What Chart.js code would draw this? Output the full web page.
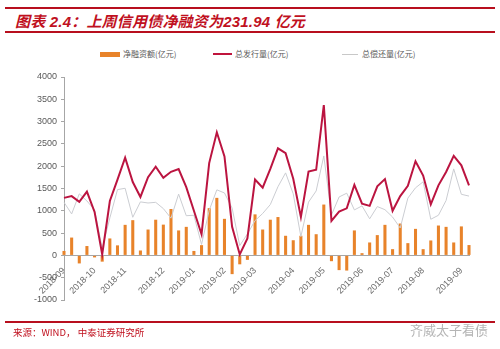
<!DOCTYPE html>
<html>
<head>
<meta charset="utf-8">
<script src="https://cdn.jsdelivr.net/npm/chart.js@4.4.1/dist/chart.umd.min.js"></script>
<style>
  html, body { margin:0; padding:0; background:#fff; }
  #wrap { position:relative; width:500px; height:349px; overflow:hidden; font-family:"Liberation Sans","Noto Sans CJK SC",sans-serif; }
  .rule { position:absolute; left:5px; width:490px; height:2px; background:#b80f1e; }
  #title { position:absolute; left:15px; top:12px; font-size:15px; line-height:20px; font-weight:bold; font-style:italic; color:#c0101e; font-family:"Liberation Sans","Noto Sans CJK SC",sans-serif; white-space:nowrap; letter-spacing:0.2px; }
  #legend { position:absolute; top:48px; left:0; width:500px; height:12px; font-family:"Noto Sans CJK SC",sans-serif; font-size:8px; color:#595959; }
  .lg { position:absolute; top:0; line-height:12px; white-space:nowrap; }
  .sw { position:absolute; }
  #src { position:absolute; left:13px; top:325px; font-size:9.5px; color:#c0101e; font-family:"Noto Sans CJK SC",sans-serif; white-space:nowrap; }
  #wm { position:absolute; left:410px; top:320px; font-size:13px; color:#b5b5b5; font-family:"Noto Sans CJK SC",sans-serif; white-space:nowrap; }
  canvas { position:absolute; left:0; top:0; }
</style>
</head>
<body>
<div id="wrap">
  <div class="rule" style="top:7px"></div>
  <div id="title">图表 2.4：上周信用债净融资为231.94 亿元</div>
  <div class="rule" style="top:31px"></div>
  <div id="legend">
    <div class="sw" style="left:100px;top:4px;width:20px;height:5px;background:#e8832a"></div>
    <div class="lg" style="left:123px">净融资额(亿元)</div>
    <div class="sw" style="left:213px;top:5px;width:19px;height:2px;background:#c0143c"></div>
    <div class="lg" style="left:235px">总发行量(亿元)</div>
    <div class="sw" style="left:342px;top:6px;width:16px;height:1px;background:#c8c8c8"></div>
    <div class="lg" style="left:362px">总偿还量(亿元)</div>
  </div>
  <canvas id="c" width="500" height="349"></canvas>
  <div class="rule" style="top:321px"></div>
  <div id="src">来源：WIND， 中泰证券研究所</div>
  <div id="wm">齐威太子看债</div>
</div>
<script>
// Weekly dates (week ending)
const weeks = [
  '2018-09-07','2018-09-14','2018-09-21','2018-09-28','2018-10-05','2018-10-12','2018-10-19','2018-10-26',
  '2018-11-02','2018-11-09','2018-11-16','2018-11-23','2018-11-30','2018-12-07','2018-12-14','2018-12-21',
  '2018-12-28','2019-01-04','2019-01-11','2019-01-18','2019-01-25','2019-02-01','2019-02-08','2019-02-15',
  '2019-02-22','2019-03-01','2019-03-08','2019-03-15','2019-03-22','2019-03-29','2019-04-05','2019-04-12',
  '2019-04-19','2019-04-26','2019-05-03','2019-05-10','2019-05-17','2019-05-24','2019-05-31','2019-06-07',
  '2019-06-14','2019-06-21','2019-06-28','2019-07-05','2019-07-12','2019-07-19','2019-07-26','2019-08-02',
  '2019-08-09','2019-08-16','2019-08-23','2019-08-30','2019-09-06','2019-09-13'
];
// 净融资额(亿元)
const netFinancing = [
  100, 400, -180, 210, -45, -140, 380, 225, 685, 790, 110, 580, 800, 690, 1040, 560, 640, 100,
  230, 1060, 1290, 820, -420, -200, -100, 920, 580, 800, 860, 440, 340, 440, 685, 475, 1140, -130,
  -330, -340, 560, 50, 290, 455, 685, 140, 715, 275, 595, 140, 335, 670, 640, 290, 650, 231.94
];
// 总发行量(亿元)
const totalIssuance = [
  1290, 1330, 1200, 1430, 975, 20, 1220, 1700, 2190, 1645, 1310, 1755, 1990, 1740, 1875, 1935, 1530, 1000,
  475, 2070, 2760, 2220, 640, 20, 380, 1700, 1520, 1940, 2400, 2290, 1720, 860, 1880, 1920, 3370, 775,
  980, 1055, 1580, 1160, 1110, 1550, 1710, 1000, 1330, 1560, 2110, 1790, 1145, 1570, 1870, 2230, 2020, 1570
];
// 总偿还量(亿元)
const totalRepayment = [
  1190, 930, 1380, 1220, 1020, 160, 840, 1475, 1505, 855, 1200, 1175, 1190, 1050, 835, 1375, 890, 900,
  245, 1010, 1470, 1400, 1060, 220, 480, 780, 940, 1140, 1540, 1850, 1380, 420, 1195, 1445, 2230, 905,
  1310, 1395, 1020, 1110, 820, 1095, 1025, 860, 615, 1285, 1515, 1650, 810, 900, 1230, 1940, 1370, 1330
];
const yMin = -1000, yMax = 4000, yStep = 500;

const axisGray = '#a6a6a6';
const tickFont = { family: 'Liberation Sans', size: 9 };

new Chart(document.getElementById('c'), {
  type: 'bar',
  data: {
    labels: weeks,
    datasets: [
      { type: 'line', label: '总发行量(亿元)', data: totalIssuance, borderColor: '#bb1440', borderWidth: 2,
        pointRadius: 0, tension: 0, fill: false, order: 1 },
      { type: 'line', label: '总偿还量(亿元)', data: totalRepayment, borderColor: '#cbcdd2', borderWidth: 1,
        pointRadius: 0, tension: 0, fill: false, order: 2 },
      { type: 'bar', label: '净融资额(亿元)', data: netFinancing, backgroundColor: '#e8832a',
        categoryPercentage: 0.4, barPercentage: 1, clip: false, order: 3 }
    ]
  },
  options: {
    responsive: false,
    animation: false,
    devicePixelRatio: 1,
    layout: { padding: { top: 77, bottom: 49, left: 0, right: 31 } },
    plugins: { legend: { display: false }, tooltip: { enabled: false } },
    scales: {
      x: {
        position: { y: 0 },
        offset: false,
        grid: { display: false },
        border: { display: true, color: axisGray, width: 1 },
        ticks: {
          autoSkip: false, minRotation: 45, maxRotation: 45, padding: 2,
          color: '#6b6b6b', font: tickFont,
          callback: function(v, i) {
            const cur = weeks[i].slice(0, 7);
            if (i === 0 || weeks[i - 1].slice(0, 7) !== cur) return cur;
            return '';
          }
        }
      },
      y: {
        min: yMin, max: yMax,
        afterFit: s => { s.width = 64; },
        grid: { display: true, drawOnChartArea: false, drawTicks: true, tickLength: 3, color: axisGray },
        border: { display: true, color: axisGray, width: 1 },
        ticks: { stepSize: yStep, color: '#595959', font: tickFont, padding: 4,
                 callback: v => String(v) }
      }
    }
  }
});
</script>
</body>
</html>
